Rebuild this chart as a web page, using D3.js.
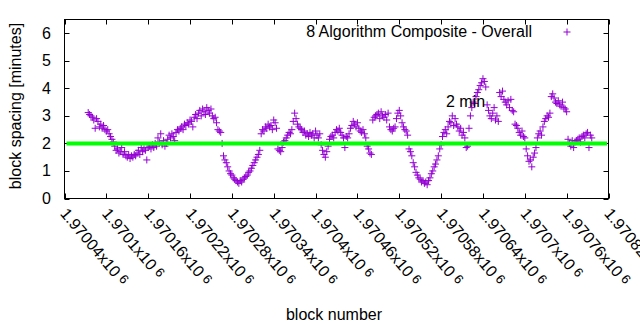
<!DOCTYPE html>
<html><head><meta charset="utf-8">
<script src="https://cdn.jsdelivr.net/npm/d3@7"></script>
<style>
html,body{margin:0;padding:0;background:#fff;}
text{font-family:"Liberation Sans",Arial,sans-serif;fill:#000;}
</style></head>
<body><svg id="c" width="640" height="330"></svg>
<script>
// ---- data ----
const seriesName = "8 Algorithm Composite - Overall";
const refLabel = "2 min";
const refValue = 2;
const firstBlock = 1970074;
const blockStep = 2;
const spacing = [
 3.12,3.05,3.0,2.95,2.85,2.55,2.9,
 2.8,2.6,2.7,2.55,2.65,2.5,2.45,
 2.5,2.35,2.25,2.15,2.05,1.9,1.75,
 1.8,1.65,1.7,1.85,1.6,1.7,1.55,
 1.5,1.6,1.45,1.55,1.5,1.6,1.55,
 1.65,1.75,1.6,1.85,1.7,1.8,1.75,
 1.4,1.85,1.9,1.8,1.95,1.85,2.0,
 1.9,2.2,2.05,2.35,1.95,2.1,1.9,
 2.0,2.15,2.3,2.2,2.35,2.25,2.1,
 2.4,2.5,2.45,2.55,2.6,2.5,2.7,
 2.65,2.75,2.7,2.85,2.8,2.6,2.95,
 3.05,2.9,3.1,3.2,3.0,3.25,3.15,
 3.05,3.3,3.2,3.1,3.25,3.0,2.9,
 2.95,2.75,2.5,2.45,2.4,2.0,1.55,
 1.4,1.3,1.15,1.0,0.9,0.85,0.75,
 0.7,0.65,0.6,0.55,0.65,0.6,0.7,
 0.75,0.8,0.85,0.95,1.0,1.1,1.2,
 1.3,1.4,1.5,1.6,1.75,2.35,2.5,
 2.45,2.6,2.55,2.7,2.6,2.65,2.5,
 2.85,2.75,2.55,1.8,1.75,1.7,1.85,
 2.05,2.1,2.2,2.3,2.4,2.35,2.5,
 2.8,3.1,2.9,2.7,2.6,2.55,2.5,
 2.4,2.45,2.3,2.35,2.25,2.4,2.3,
 2.35,2.2,2.45,2.3,2.2,2.35,1.95,
 1.75,1.6,1.5,1.7,1.9,2.15,2.25,
 2.3,2.2,2.4,2.5,2.45,2.55,2.4,
 2.3,2.2,1.85,2.25,2.2,2.35,2.55,
 2.65,2.8,2.7,2.6,2.75,2.55,2.45,
 2.4,2.5,2.35,2.2,1.9,1.8,1.65,
 1.6,2.85,2.95,3.0,3.05,3.1,2.9,
 3.15,3.0,2.95,3.05,2.85,3.1,2.6,
 2.5,2.45,2.55,2.6,2.9,3.1,3.2,
 3.0,2.75,2.6,2.5,2.45,2.3,1.8,
 1.7,1.55,1.3,1.15,0.95,0.85,0.75,
 0.7,0.6,0.65,0.55,0.6,0.5,0.65,
 0.75,0.9,1.0,1.15,1.25,1.4,1.55,
 1.8,1.95,2.25,2.4,2.5,2.35,2.6,
 2.8,2.75,3.0,2.65,2.9,2.7,2.6,
 2.45,2.55,2.3,2.4,2.2,1.85,1.9,
 2.55,3.0,3.3,3.5,3.45,3.7,3.85,
 3.95,4.1,4.2,4.35,4.25,4.05,3.4,
 3.2,3.0,2.9,3.1,3.3,2.85,3.0,
 2.8,3.85,3.7,3.9,3.6,3.5,3.4,
 3.55,3.3,3.6,3.2,3.15,2.7,2.65,
 2.55,2.4,2.3,2.45,2.25,2.2,1.8,
 1.55,1.35,1.4,1.15,1.5,1.65,1.85,
 2.2,2.35,2.45,2.3,2.6,2.8,2.9,
 3.0,2.95,3.1,3.7,3.8,3.65,3.5,
 3.45,3.55,3.4,3.35,3.5,3.3,3.25,
 3.15,2.15,2.0,1.9,2.1,1.85,2.05,
 2.1,2.15,2.2,2.05,2.25,2.3,2.2,
 2.35,2.4,1.85,2.3,2.2
];
const blocks = spacing.map((_, i) => firstBlock + i * blockStep);
const xTicks = [1970040,1970100,1970160,1970220,1970280,1970340,1970400,1970460,1970520,1970580,1970640,1970700,1970760,1970820];
const xTickLabels = ["1.97004","1.9701","1.97016","1.97022","1.97028","1.97034","1.9704","1.97046","1.97052","1.97058","1.97064","1.9707","1.97076","1.97082"];
const yTicks = [0,1,2,3,4,5,6];
const xDomain = [1970040, 1970820];
const yDomain = [0, 6.5];

// ---- chart ----
const svg = d3.select("#c");
const L = 64.5, R = 608.5, T = 19.5, B = 198.5;
const x = d3.scaleLinear().domain(xDomain).range([L, R]);
const y = d3.scaleLinear().domain(yDomain).range([B, T]);
const FS = 16;
svg.append("rect").attr("width",640).attr("height",330).attr("fill","#fff");

// ticks (inward, mirrored)
const tk = 5;
const g = svg.append("g").attr("stroke","#000").attr("stroke-width",1);
xTicks.forEach(v => {
  const px = Math.round(x(v)) + 0.5;
  g.append("line").attr("x1",px).attr("x2",px).attr("y1",B).attr("y2",B-tk);
  g.append("line").attr("x1",px).attr("x2",px).attr("y1",T).attr("y2",T+tk);
});
yTicks.forEach(v => {
  const py = Math.round(y(v)) + 0.5;
  g.append("line").attr("x1",L).attr("x2",L+tk).attr("y1",py).attr("y2",py);
  g.append("line").attr("x1",R).attr("x2",R-tk).attr("y1",py).attr("y2",py);
});

// y tick labels
svg.append("g").selectAll("text").data(yTicks).join("text")
  .attr("x", 51).attr("y", d => y(d) + 5.5)
  .attr("text-anchor","end").attr("font-size",FS).text(d => d);

// x tick labels rotated
const xl = svg.append("g").selectAll("text").data(xTicks).join("text")
  .attr("transform", d => `translate(${x(d)-5},${214}) rotate(50)`)
  .attr("font-size",FS);
xl.append("tspan").text((d,i) => xTickLabels[i] + "x10");
xl.append("tspan").attr("dx",4).attr("dy",-3).attr("font-size",13).text("6");

// axis titles
svg.append("text").attr("x",334).attr("y",320).attr("text-anchor","middle").attr("font-size",FS).text("block number");
svg.append("text").attr("transform","translate(21,106) rotate(-90)").attr("text-anchor","middle").attr("font-size",FS).text("block spacing [minutes]");

// points
const col = "#9400d3";
const ms = 3.5;
const pts = svg.append("g").attr("stroke",col).attr("stroke-width",1);
spacing.forEach((v,i) => {
  const cx = x(blocks[i]), cy = y(v);
  pts.append("path").attr("d",`M${cx-ms},${cy}H${cx+ms}M${cx},${cy-ms}V${cy+ms}`);
});

// reference line
svg.append("line").attr("x1",x(xDomain[0])+2).attr("x2",x(xDomain[1])-1.5)
  .attr("y1",y(refValue)).attr("y2",y(refValue))
  .attr("stroke","#00ff00").attr("stroke-width",4);

// labels
svg.append("text").attr("x",446).attr("y",107).attr("font-size",FS).text(refLabel);
svg.append("text").attr("x",532).attr("y",37).attr("text-anchor","end").attr("font-size",FS).text(seriesName);
svg.append("path").attr("d",`M${567-ms},32H${567+ms}M567,${32-ms}V${32+ms}`).attr("stroke",col).attr("stroke-width",1);

// frame
svg.append("rect").attr("x",L).attr("y",T).attr("width",R-L).attr("height",B-T)
  .attr("fill","none").attr("stroke","#000").attr("stroke-width",1);
</script></body></html>
